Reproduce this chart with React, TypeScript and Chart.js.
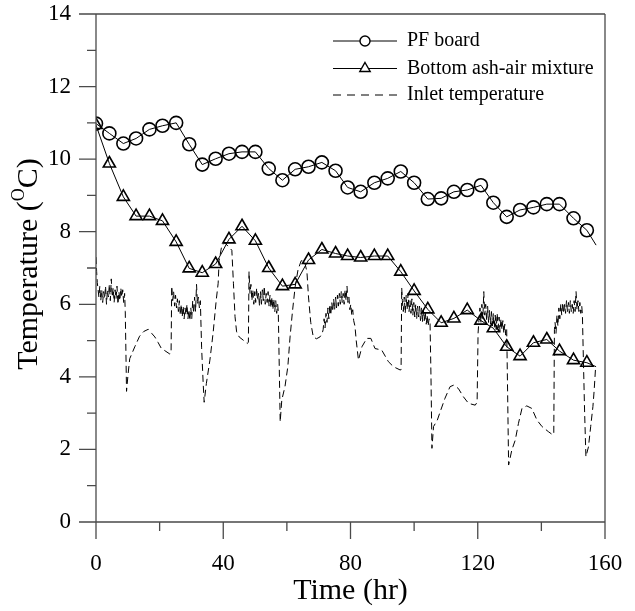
import React, { useEffect, useRef } from 'react';
import { Chart, registerables } from 'chart.js';

Chart.register(...registerables);

const FONT = "'Liberation Serif', 'Times New Roman', Times, serif";

// ---- data ----
const timeMarkers = [0, 4.2, 8.6, 12.6, 16.8, 20.9, 25.2, 29.3, 33.4, 37.6, 41.8, 45.9, 50.1, 54.3, 58.6, 62.6, 66.8, 71.0, 75.3, 79.1, 83.2, 87.5, 91.7, 95.8, 100.0, 104.3, 108.5, 112.5, 116.7, 121.0, 124.9, 129.1, 133.3, 137.5, 141.7, 145.7, 150.1, 154.3, 157.2];
const pfBoard = [10.98, 10.71, 10.43, 10.57, 10.82, 10.92, 11.0, 10.41, 9.85, 10.01, 10.15, 10.2, 10.2, 9.74, 9.42, 9.72, 9.79, 9.91, 9.68, 9.22, 9.10, 9.35, 9.47, 9.66, 9.35, 8.90, 8.92, 9.10, 9.15, 9.28, 8.80, 8.41, 8.60, 8.67, 8.76, 8.76, 8.37, 8.04, 7.63];
const ashAir = [10.94, 9.88, 8.96, 8.43, 8.43, 8.30, 7.72, 6.99, 6.87, 7.11, 7.79, 8.15, 7.75, 7.00, 6.50, 6.55, 7.22, 7.51, 7.40, 7.33, 7.29, 7.33, 7.33, 6.90, 6.37, 5.86, 5.49, 5.61, 5.84, 5.55, 5.34, 4.83, 4.57, 4.94, 5.03, 4.71, 4.46, 4.39, 4.28];

const inletTime = [
  0.0, 0.2, 0.4, 0.6, 0.9, 1.2, 1.5, 1.8, 2.1, 2.4,
  2.7, 3.0, 3.3, 3.6, 3.9, 4.2, 4.5, 4.8, 5.1, 5.4,
  5.7, 6.0, 6.3, 6.6, 6.9, 7.2, 7.5, 7.8, 8.1, 8.4,
  8.7, 9.0, 9.2, 9.6, 10.0, 10.6, 12.2, 13.7, 15.0, 16.4,
  17.5, 18.5, 19.5, 20.5, 22.0, 23.2, 23.6, 23.8, 24.1, 24.4,
  24.7, 25.0, 25.3, 25.6, 25.9, 26.2, 26.5, 26.8, 27.1, 27.4,
  27.7, 28.0, 28.3, 28.6, 28.9, 29.2, 29.5, 29.8, 30.1, 30.4,
  30.7, 31.0, 31.3, 31.6, 31.9, 32.2, 32.5, 32.8, 33.2, 33.7,
  34.0, 34.7, 35.8, 36.8, 37.8, 38.4, 38.7, 39.5, 40.5, 41.5,
  42.7, 43.2, 43.7, 44.2, 45.0, 46.3, 47.5, 47.9, 48.1, 48.4,
  48.7, 49.0, 49.3, 49.6, 49.9, 50.2, 50.5, 50.8, 51.1, 51.4,
  51.7, 52.0, 52.3, 52.6, 52.9, 53.2, 53.5, 53.8, 54.1, 54.4,
  54.7, 55.0, 55.3, 55.6, 55.9, 56.2, 56.5, 56.8, 57.1, 57.3,
  57.6, 57.9, 58.4, 59.4, 60.3, 61.0, 61.8, 62.6, 63.5, 64.5,
  65.5, 66.3, 66.8, 67.5, 68.3, 69.3, 70.4, 71.1, 71.4, 71.7,
  72.0, 72.3, 72.6, 72.9, 73.2, 73.5, 73.8, 74.1, 74.4, 74.7,
  75.0, 75.3, 75.6, 75.9, 76.2, 76.5, 76.8, 77.1, 77.4, 77.7,
  78.0, 78.3, 78.6, 78.9, 79.2, 79.5, 79.8, 80.1, 80.4, 80.7,
  81.0, 81.4, 81.8, 82.5, 83.6, 85.1, 86.4, 87.7, 89.8, 91.9,
  93.5, 95.6, 95.9, 96.1, 96.3, 96.6, 96.9, 97.2, 97.5, 97.8,
  98.1, 98.4, 98.7, 99.0, 99.3, 99.6, 99.9, 100.2, 100.5, 100.8,
  101.1, 101.4, 101.7, 102.0, 102.3, 102.6, 102.9, 103.2, 103.5, 103.8,
  104.1, 104.4, 104.7, 105.0, 105.3, 105.6, 106.1, 107.3, 108.4, 109.7,
  111.3, 112.4, 113.9, 115.5, 117.1, 119.2, 119.8, 120.1, 120.4, 120.7,
  121.0, 121.3, 121.6, 121.9, 122.2, 122.5, 122.8, 123.1, 123.4, 123.7,
  124.0, 124.3, 124.6, 124.9, 125.2, 125.5, 125.8, 126.1, 126.4, 126.7,
  127.0, 127.3, 127.6, 127.9, 128.2, 128.5, 128.8, 129.1, 129.4, 129.7,
  130.7, 131.8, 132.8, 133.9, 135.4, 137.0, 138.6, 140.2, 142.2, 143.6,
  143.9, 144.1, 144.3, 144.6, 144.9, 145.2, 145.5, 145.8, 146.1, 146.4,
  146.7, 147.0, 147.3, 147.6, 147.9, 148.2, 148.5, 148.8, 149.1, 149.4,
  149.7, 150.0, 150.3, 150.6, 150.9, 151.2, 151.5, 151.8, 152.1, 152.4,
  152.7, 152.9, 153.2, 153.6, 154.0, 154.8, 155.5, 156.2, 156.6, 157.0,
];
const inletTemp = [
  7.3, 6.9, 6.6, 6.45, 6.2, 6.5, 6.1, 6.4, 6.05, 6.35,
  6.15, 6.5, 6.0, 6.4, 6.2, 6.55, 6.1, 6.7, 6.2, 6.45,
  6.05, 6.4, 6.15, 6.5, 6.0, 6.35, 6.1, 6.45, 6.2, 6.4,
  6.05, 6.3, 5.8, 3.6, 4.0, 4.5, 4.83, 5.12, 5.25, 5.31,
  5.2, 5.1, 4.95, 4.79, 4.7, 4.63, 4.65, 6.5, 6.1, 6.35,
  5.95, 6.25, 5.9, 6.15, 5.8, 6.1, 5.7, 6.0, 5.65, 5.95,
  5.6, 5.9, 5.7, 6.0, 5.6, 5.85, 5.55, 5.9, 5.6, 6.1,
  5.75, 6.2, 5.8, 6.55, 6.0, 6.2, 5.9, 6.1, 4.8, 3.8,
  3.3, 3.82, 4.46, 5.2, 6.12, 6.58, 7.2, 7.6, 7.7, 7.6,
  7.49, 6.58, 5.66, 5.24, 5.1, 5.01, 4.92, 4.95, 6.9, 6.3,
  6.55, 6.1, 6.4, 6.0, 6.35, 6.05, 6.45, 6.1, 6.3, 5.95,
  6.35, 6.0, 6.4, 6.1, 6.5, 6.0, 6.3, 6.05, 6.35, 5.95,
  6.25, 5.9, 6.2, 5.85, 6.15, 5.8, 6.1, 5.75, 6.0, 5.8,
  4.3, 2.76, 3.36, 3.73, 4.28, 5.1, 5.84, 6.48, 6.95, 7.2,
  7.2, 6.9, 6.2, 5.5, 5.1, 5.05, 5.1, 5.2, 5.3, 5.6,
  5.35, 5.75, 5.5, 5.9, 5.6, 6.0, 5.7, 6.05, 5.8, 6.15,
  5.85, 6.2, 5.9, 6.25, 5.95, 6.3, 6.0, 6.35, 6.05, 6.3,
  6.0, 6.4, 6.1, 6.5, 6.05, 6.2, 5.85, 6.0, 5.7, 5.85,
  5.55, 5.4, 5.0, 4.46, 4.83, 5.06, 5.06, 4.78, 4.74, 4.42,
  4.28, 4.19, 4.2, 6.45, 6.1, 5.8, 6.2, 5.75, 6.25, 5.85,
  6.3, 5.8, 6.1, 5.75, 6.15, 5.7, 6.05, 5.65, 6.0, 5.6,
  5.95, 5.65, 5.95, 5.55, 5.9, 5.5, 5.85, 5.55, 5.8, 5.45,
  5.7, 5.4, 5.6, 5.5, 4.0, 2.03, 2.63, 2.81, 3.09, 3.41,
  3.73, 3.77, 3.68, 3.45, 3.27, 3.22, 3.3, 5.2, 5.6, 5.9,
  5.5, 6.0, 5.6, 6.35, 5.7, 6.0, 5.55, 5.95, 5.5, 5.85,
  5.45, 5.8, 5.4, 5.75, 5.35, 5.7, 5.3, 5.75, 5.35, 5.65,
  5.25, 5.6, 5.3, 5.55, 5.2, 5.45, 5.15, 5.3, 3.5, 1.57,
  1.98, 2.26, 2.72, 3.13, 3.2, 3.13, 2.81, 2.63, 2.49, 2.4,
  2.45, 5.3, 5.5, 5.2, 5.7, 5.4, 5.9, 5.6, 6.0, 5.7,
  6.05, 5.75, 6.0, 5.75, 6.1, 5.8, 6.05, 5.75, 6.1, 5.8,
  6.0, 5.75, 6.1, 5.8, 6.35, 5.85, 6.1, 5.8, 6.05, 5.75,
  5.95, 5.7, 4.5, 3.0, 1.8, 2.07, 2.63, 3.18, 3.64, 4.2,
];

const seriesLabels = ['PF board', 'Bottom ash-air mixture', 'Inlet temperature'];
const xTicks = [0, 40, 80, 120, 160];
const xMinorTicks = [20, 60, 100, 140];
const yTicks = [0, 2, 4, 6, 8, 10, 12, 14];
const yMinorTicks = [1, 3, 5, 7, 9, 11, 13];
const xTitle = 'Time (hr)';
const yTitleParts = ['Temperature (', 'O', 'C)'];

// ---- plugins ----
const framePlugin = {
  id: 'frame',
  afterDraw(chart: any) {
    const { ctx, chartArea } = chart;
    const { left: L, right: R, top: T, bottom: B } = chartArea;
    const xs = chart.scales.x;
    const ys = chart.scales.y;
    const major = 17;
    const minor = 9;
    ctx.save();
    ctx.strokeStyle = '#4a4a4a';
    ctx.lineWidth = 1.3;
    ctx.beginPath();
    ctx.moveTo(L - major, T); ctx.lineTo(R, T);
    ctx.moveTo(L - major, B); ctx.lineTo(R, B);
    ctx.moveTo(L, T); ctx.lineTo(L, B + major);
    ctx.moveTo(R, T); ctx.lineTo(R, B + major);
    yTicks.forEach((v) => { const y = ys.getPixelForValue(v); ctx.moveTo(L - major, y); ctx.lineTo(L, y); });
    yMinorTicks.forEach((v) => { const y = ys.getPixelForValue(v); ctx.moveTo(L - minor, y); ctx.lineTo(L, y); });
    xTicks.forEach((v) => { const x = xs.getPixelForValue(v); ctx.moveTo(x, B); ctx.lineTo(x, B + major); });
    xMinorTicks.forEach((v) => { const x = xs.getPixelForValue(v); ctx.moveTo(x, B); ctx.lineTo(x, B + minor); });
    ctx.stroke();

    // axis titles
    ctx.fillStyle = '#000';
    ctx.font = `30px ${FONT}`;
    ctx.textAlign = 'center';
    ctx.textBaseline = 'middle';
    ctx.fillText(xTitle, (L + R) / 2, B + 69);

    const sizes = [30, 18, 30];
    const shifts = [0, -10, 0];
    let total = 0;
    const widths = yTitleParts.map((p, i) => {
      ctx.font = `${sizes[i]}px ${FONT}`;
      const w = ctx.measureText(p).width;
      total += w;
      return w;
    });
    ctx.translate(29, (T + B) / 2 - 4);
    ctx.rotate(-Math.PI / 2);
    ctx.textAlign = 'left';
    let cx = -total / 2;
    yTitleParts.forEach((p, i) => {
      ctx.font = `${sizes[i]}px ${FONT}`;
      ctx.fillText(p, cx, shifts[i]);
      cx += widths[i];
    });
    ctx.restore();
  },
};

const keyPlugin = {
  id: 'seriesKey',
  afterDraw(chart: any) {
    const { ctx, chartArea } = chart;
    const x0 = chartArea.left + 237;
    const x1 = x0 + 64;
    const mid = (x0 + x1) / 2;
    const tx = x1 + 10;
    const rows = [chartArea.top + 27, chartArea.top + 54.5, chartArea.top + 81];
    chart.data.datasets.forEach((ds: any, i: number) => {
      const y = rows[i];
      ctx.save();
      ctx.strokeStyle = '#000';
      ctx.lineWidth = 1;
      ctx.setLineDash(ds.borderDash && ds.borderDash.length ? [8, 6] : []);
      ctx.beginPath();
      ctx.moveTo(x0, y);
      ctx.lineTo(x1, y);
      ctx.stroke();
      ctx.setLineDash([]);
      ctx.lineWidth = 1.4;
      ctx.fillStyle = '#fff';
      if (ds.pointStyle === 'circle') {
        ctx.beginPath();
        ctx.arc(mid, y, 5, 0, Math.PI * 2);
        ctx.fill();
        ctx.stroke();
      } else if (ds.pointStyle === 'triangle') {
        const r = 6;
        ctx.beginPath();
        ctx.moveTo(mid, y - r);
        ctx.lineTo(mid + r * 0.866, y + r / 2);
        ctx.lineTo(mid - r * 0.866, y + r / 2);
        ctx.closePath();
        ctx.fill();
        ctx.stroke();
      }
      ctx.fillStyle = '#000';
      ctx.font = `20px ${FONT}`;
      ctx.textAlign = 'left';
      ctx.textBaseline = 'middle';
      ctx.fillText(ds.label, tx, y);
      ctx.restore();
    });
  },
};

export default function App() {
  const ref = useRef<HTMLCanvasElement | null>(null);

  useEffect(() => {
    if (!ref.current) return;
    const last = timeMarkers.length - 1;
    const chart = new Chart(ref.current, {
      type: 'line',
      data: {
        datasets: [
          {
            label: seriesLabels[0],
            data: timeMarkers.map((t, i) => ({ x: t, y: pfBoard[i] })),
            borderColor: '#000',
            borderWidth: 1,
            pointStyle: 'circle',
            pointRadius: (c: any) => (c.dataIndex === last ? 0 : 6.5),
            pointBorderWidth: 1.6,
            pointBorderColor: '#000',
            pointBackgroundColor: 'rgba(255,255,255,0)',
            tension: 0,
          },
          {
            label: seriesLabels[1],
            data: timeMarkers.map((t, i) => ({ x: t, y: ashAir[i] })),
            borderColor: '#000',
            borderWidth: 1,
            pointStyle: 'triangle',
            pointRadius: (c: any) => (c.dataIndex === last ? 0 : 7),
            pointBorderWidth: 1.6,
            pointBorderColor: '#000',
            pointBackgroundColor: 'rgba(255,255,255,0)',
            tension: 0,
          },
          {
            label: seriesLabels[2],
            data: inletTime.map((t, i) => ({ x: t, y: inletTemp[i] })),
            borderColor: '#000',
            borderWidth: 1,
            borderDash: [7, 4],
            pointRadius: 0,
            tension: 0,
          },
        ],
      } as any,
      options: {
        responsive: false,
        animation: false,
        devicePixelRatio: 1,
        layout: { autoPadding: false, padding: { top: 14, right: 30, left: 0, bottom: 0 } },
        plugins: { legend: { display: false }, tooltip: { enabled: false } },
        scales: {
          x: {
            type: 'linear',
            min: 0,
            max: 160,
            grid: { display: false, drawTicks: false, tickLength: 0 },
            border: { display: false },
            ticks: { color: '#000', font: { family: FONT, size: 23 }, padding: 28, maxRotation: 0 },
            afterBuildTicks: (s: any) => { s.ticks = xTicks.map((v) => ({ value: v })); },
            afterFit: (s: any) => { s.height = 89; s.paddingLeft = 0; s.paddingRight = 0; s.paddingTop = 0; s.paddingBottom = 0; },
          },
          y: {
            type: 'linear',
            min: 0,
            max: 14,
            grid: { display: false, drawTicks: false, tickLength: 0 },
            border: { display: false },
            ticks: { color: '#000', font: { family: FONT, size: 23 }, padding: 25 },
            afterBuildTicks: (s: any) => { s.ticks = yTicks.map((v) => ({ value: v })); },
            afterFit: (s: any) => { s.width = 96; s.paddingLeft = 0; s.paddingRight = 0; s.paddingTop = 0; s.paddingBottom = 0; },
          },
        },
      } as any,
      plugins: [framePlugin, keyPlugin],
    });
    return () => chart.destroy();
  }, []);

  return (
    <div style={{ position: 'fixed', left: 0, top: 0, width: 635, height: 611, background: '#fff' }}>
      <canvas ref={ref} width={635} height={611} style={{ display: 'block' }} />
    </div>
  );
}
